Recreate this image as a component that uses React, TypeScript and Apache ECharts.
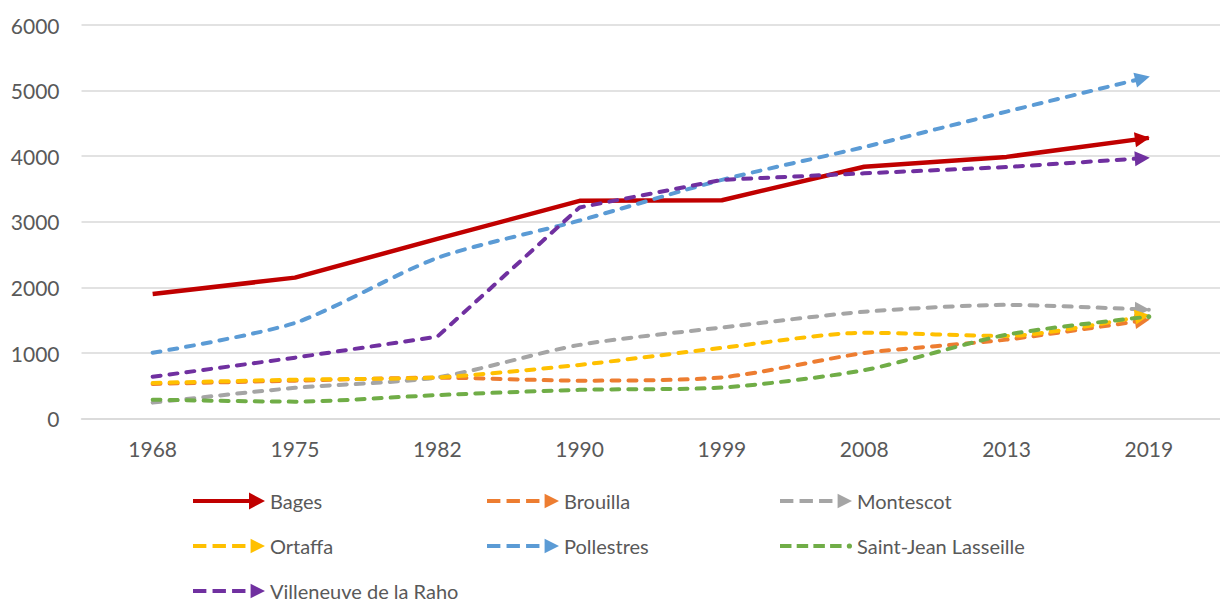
import React, { useEffect, useRef } from 'react';
import * as echarts from 'echarts';

const years = ['1968', '1975', '1982', '1990', '1999', '2008', '2013', '2019'];
const yTicks = [0, 1000, 2000, 3000, 4000, 5000, 6000];

const bages = [1900, 2150, 2740, 3320, 3330, 3840, 3990, 4280];
const brouilla = [530, 580, 625, 580, 630, 1000, 1205, 1510];
const montescot = [245, 470, 630, 1125, 1390, 1630, 1735, 1660];
const ortaffa = [545, 595, 630, 820, 1080, 1310, 1260, 1580];
const pollestres = [1005, 1460, 2450, 3020, 3640, 4140, 4680, 5210];
const saintJean = [290, 260, 360, 440, 475, 740, 1280, 1555];
const villeneuve = [640, 930, 1250, 3220, 3640, 3740, 3835, 3975];

const names = ['Bages', 'Brouilla', 'Montescot', 'Ortaffa', 'Pollestres', 'Saint-Jean Lasseille', 'Villeneuve de la Raho'];
const colors = ['#C00000', '#ED7D31', '#A5A5A5', '#FFC000', '#5B9BD5', '#70AD47', '#7030A0'];
const values = [bages, brouilla, montescot, ortaffa, pollestres, saintJean, villeneuve];
const dashed = [false, true, true, true, true, true, true];
const smoothFlags = [false, 0.25, 0.25, 0.25, 0.25, 0.25, false];
const endArrow = [true, true, true, true, true, false, true];

const ICON_SOLID = 'path://M0,6.5H57V10.5H0Z M56,0L72,8.5L56,17Z';
const ICON_DASH = 'path://M0,6.5H13V10.5H0Z M19,6.5H32V10.5H19Z M38,6.5H51V10.5H38Z M56,1.5L70,8.5L56,15.5Z';
const ICON_DOT = 'path://M0,6.5H11V10.5H0Z M16,6.5H27V10.5H16Z M32,6.5H43V10.5H32Z M48,6.5H59V10.5H48Z M64,8.5A2.5,2.5 0 1,0 69,8.5A2.5,2.5 0 1,0 64,8.5Z';

const FONT = 'Lato, "Noto Sans", sans-serif';
const TEXT_COLOR = '#595959';

function iconFor(i: number) {
  if (!dashed[i]) return ICON_SOLID;
  return endArrow[i] ? ICON_DASH : ICON_DOT;
}

const legendColumns = [
  { left: 193, items: [0, 3, 6] },
  { left: 487, items: [1, 4] },
  { left: 780, items: [2, 5] },
];

export default function App() {
  const ref = useRef<HTMLDivElement>(null);

  useEffect(() => {
    const chart = echarts.init(ref.current!, null, { renderer: 'svg' });

    const buildSeries = (rots: (number[] | null)[]) =>
      names.map((name, i) => {
        const vals = values[i];
        const n = vals.length;
        const data = vals.map((v, k) => {
          if (k !== n - 1) return v;
          if (endArrow[i] && rots[i]) {
            return {
              value: v,
              symbol: 'triangle',
              symbolSize: [15, 15],
              symbolRotate: rots[i]![0],
              symbolOffset: [rots[i]![1], rots[i]![2]],
            };
          }
          if (!endArrow[i]) {
            return { value: v, symbol: 'circle', symbolSize: 5 };
          }
          return v;
        });
        return {
          name,
          type: 'line',
          data,
          smooth: smoothFlags[i],
          symbol: 'none',
          showSymbol: true,
          showAllSymbol: true,
          color: colors[i],
          itemStyle: { color: colors[i], borderWidth: 0 },
          lineStyle: {
            color: colors[i],
            width: dashed[i] ? 4 : 4.5,
            type: dashed[i] ? [8, 9] : 'solid',
            cap: dashed[i] ? 'round' : 'butt',
            join: 'round',
          },
          emphasis: { disabled: true },
          z: 2 + i,
        };
      });

    const option: any = {
      animation: false,
      backgroundColor: '#ffffff',
      grid: { left: 81.5, top: 25, width: 1145, height: 393.7, containLabel: false },
      xAxis: {
        type: 'category',
        data: years,
        boundaryGap: true,
        axisLine: { show: true, lineStyle: { color: '#D9D9D9', width: 1.5 } },
        axisTick: { show: false },
        axisLabel: { color: TEXT_COLOR, fontSize: 21, fontFamily: FONT, margin: 19 },
        splitLine: { show: false },
      },
      yAxis: {
        type: 'value',
        min: yTicks[0],
        max: yTicks[yTicks.length - 1],
        interval: 1000,
        axisLine: { show: false },
        axisTick: { show: false },
        axisLabel: {
          color: TEXT_COLOR,
          fontSize: 21,
          fontFamily: FONT,
          margin: 22,
          formatter: (v: number) => String(v),
        },
        splitLine: { show: true, lineStyle: { color: '#D9D9D9', width: 1.5 } },
      },
      legend: legendColumns.map((col) => ({
        orient: 'vertical',
        left: col.left,
        top: 491,
        padding: 0,
        itemGap: 25,
        itemWidth: 72,
        itemHeight: 17,
        selectedMode: false,
        itemStyle: { borderWidth: 0 },
        textStyle: { color: TEXT_COLOR, fontSize: 20, fontFamily: FONT, lineHeight: 20 },
        data: col.items.map((i) => ({ name: names[i], icon: iconFor(i) })),
      })),
      series: buildSeries(names.map(() => null)),
    };

    chart.setOption(option);

    const rots = names.map((_, i) => {
      if (!endArrow[i]) return null;
      const vals = values[i];
      const n = vals.length;
      const p1 = chart.convertToPixel({ seriesIndex: i }, [n - 2, vals[n - 2]]) as number[];
      const p2 = chart.convertToPixel({ seriesIndex: i }, [n - 1, vals[n - 1]]) as number[];
      const dx = p2[0] - p1[0];
      const dy = p2[1] - p1[1];
      const len = Math.sqrt(dx * dx + dy * dy) || 1;
      const ux = dx / len;
      const uy = dy / len;
      const rot = (-Math.PI / 2 - Math.atan2(dy, dx)) * 180 / Math.PI;
      const back = 6.5;
      return [rot, -ux * back, -uy * back];
    });

    chart.setOption({ series: buildSeries(rots) });

    return () => chart.dispose();
  }, []);

  return (
    <div
      ref={ref}
      style={{ position: 'fixed', left: 0, top: 0, width: 1220, height: 603, background: '#ffffff' }}
    />
  );
}
